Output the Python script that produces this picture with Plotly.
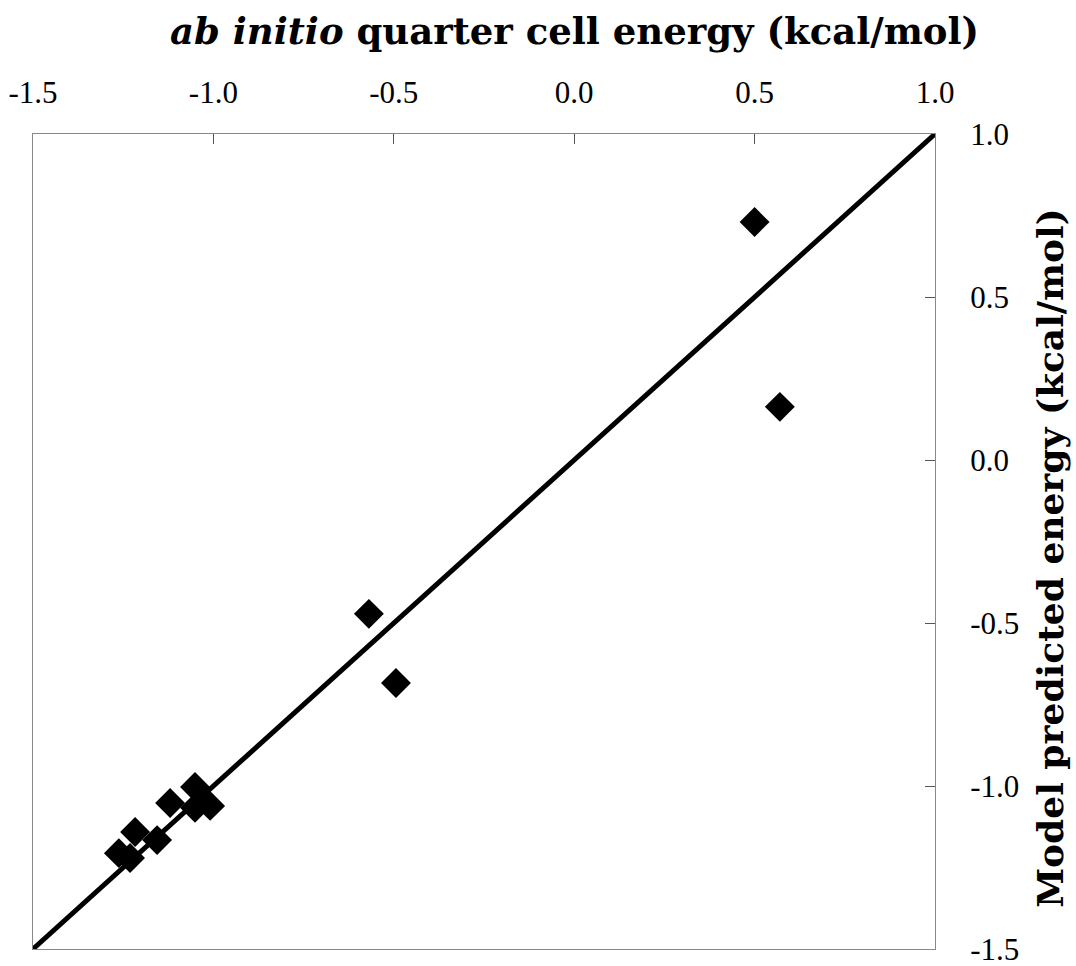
import plotly.graph_objects as go

# data
x_abinitio = [0.50, 0.57, -0.569, -0.494, -1.051, -1.009, -1.051, -1.120, -1.217, -1.156, -1.262, -1.231]
y_model = [0.73, 0.163, -0.472, -0.684, -1.003, -1.061, -1.067, -1.052, -1.141, -1.166, -1.206, -1.221]
line_x = [-1.5, 1.0]
line_y = [-1.5, 1.0]
tick_vals = [-1.5, -1.0, -0.5, 0.0, 0.5, 1.0]
tick_text = ["-1.5", "-1.0", "-0.5", "0.0", "0.5", "1.0"]

FONT = "Liberation Serif"
TITLE_FONT = "DejaVu Serif"

fig = go.Figure()
fig.add_trace(go.Scatter(x=line_x, y=line_y, mode="lines",
                         line=dict(color="black", width=5), showlegend=False, hoverinfo="skip"))
fig.add_trace(go.Scatter(x=x_abinitio, y=y_model, mode="markers",
                         marker=dict(symbol="diamond", size=23, color="black"),
                         showlegend=False))

axis_common = dict(range=[-1.5, 1.0], tickvals=tick_vals, ticktext=tick_text,
                   ticks="inside", ticklen=10, tickwidth=1, tickcolor="#555555",
                   showline=True, linecolor="#888888", linewidth=1, mirror=True,
                   showgrid=False, zeroline=False, ticklabeloverflow="allow",
                   automargin=False,
                   tickfont=dict(family=FONT, size=31, color="black"))

fig.update_xaxes(side="top", ticklabelstandoff=18, **axis_common)
fig.update_yaxes(side="right", ticklabelstandoff=28, **axis_common)

fig.add_annotation(text="<b><i>ab initio</i> quarter cell energy (kcal/mol)</b>",
                   xref="paper", yref="paper", x=0.6, y=1.126, showarrow=False,
                   xanchor="center", yanchor="middle",
                   font=dict(family=TITLE_FONT, size=37, color="black"))
fig.add_annotation(text="<b>Model predicted energy (kcal/mol)</b>",
                   xref="paper", yref="paper", x=1.1275, y=0.48, showarrow=False,
                   textangle=-90, xanchor="center", yanchor="middle",
                   font=dict(family=TITLE_FONT, size=36, color="black"))

fig.update_layout(width=1076, height=966,
                  margin=dict(l=33, r=141, t=134, b=17, autoexpand=False),
                  paper_bgcolor="white", plot_bgcolor="white")

fig.write_html("out.html")
